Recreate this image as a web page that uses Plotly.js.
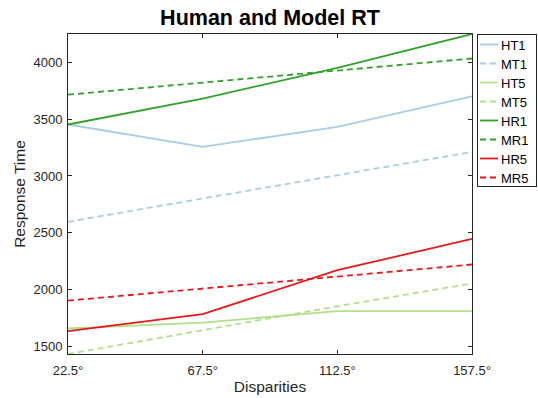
<!DOCTYPE html>
<html>
<head>
<meta charset="utf-8">
<script src="https://cdn.plot.ly/plotly-3.0.1.min.js"></script>
<style>html,body{margin:0;padding:0;background:#fff;}#chart{width:538px;height:398px;}</style>
</head>
<body>
<div id="chart"></div>
<script>
// Disparities (degrees)
const disparities = [22.5, 67.5, 112.5, 157.5];
const xTickLabels = ["22.5°", "67.5°", "112.5°", "157.5°"];

// Response times
const HT1 = [3452, 3255, 3432, 3700];
const MT1 = [2597, 2802, 3008, 3211];
const HT5 = [1660, 1712, 1812, 1812];
const MT5 = [1436, 1646, 1855, 2056];
const HR1 = [3452, 3680, 3950, 4247];
const MR1 = [3714, 3822, 3928, 4032];
const HR5 = [1636, 1786, 2172, 2447];
const MR5 = [1905, 2010, 2118, 2222];

const seriesNames = ["HT1", "MT1", "HT5", "MT5", "HR1", "MR1", "HR5", "MR5"];
const seriesData = [HT1, MT1, HT5, MT5, HR1, MR1, HR5, MR5];
const seriesColors = ["#a6cee3", "#a6cee3", "#b2df8a", "#b2df8a", "#33a02c", "#33a02c", "#e31a1c", "#e31a1c"];
const seriesDash = ["solid", "6px,4px", "solid", "6px,4px", "solid", "6px,4px", "solid", "6px,4px"];

const traces = seriesNames.map((name, i) => ({
  x: disparities,
  y: seriesData[i],
  name: name,
  type: "scatter",
  mode: "lines",
  line: {color: seriesColors[i], width: 1.8, dash: seriesDash[i]}
}));

const allY = [].concat(...seriesData);
const yMin = Math.min(...allY);
const yMax = Math.max(...allY);

const FONT = "Liberation Sans, Arial, Helvetica, sans-serif";

const axisCommon = {
  showgrid: false,
  zeroline: false,
  showline: true,
  mirror: "ticks",
  linecolor: "#262626",
  linewidth: 1,
  ticks: "inside",
  ticklen: 4,
  tickcolor: "#262626",
  tickfont: {family: FONT, size: 13, color: "#262626"}
};

const layout = {
  width: 538,
  height: 398,
  margin: {l: 68, r: 66, t: 34, b: 44, autoexpand: false},
  paper_bgcolor: "#fff",
  plot_bgcolor: "#fff",
  title: {
    text: "<b>Human and Model RT</b>",
    font: {family: FONT, size: 21.5, color: "#000"},
    x: 270 / 538, xanchor: "center",
    y: 1 - 17 / 398, yanchor: "middle",
    automargin: false
  },
  xaxis: Object.assign({}, axisCommon, {
    range: [disparities[0], disparities[disparities.length - 1]],
    tickvals: disparities,
    ticktext: xTickLabels,
    ticklabelstandoff: 4,
    automargin: false,
    title: {text: "Disparities", font: {family: FONT, size: 15.5, color: "#262626"}, standoff: 4}
  }),
  yaxis: Object.assign({}, axisCommon, {
    range: [yMin, yMax],
    tickmode: "linear",
    tick0: 1500,
    dtick: 500,
    ticklabelstandoff: 2,
    automargin: false,
    title: {text: "Response Time", font: {family: FONT, size: 15.5, color: "#262626"}, standoff: 4}
  }),
  showlegend: true,
  legend: {
    x: 0.5, xanchor: "center",
    y: 0.5, yanchor: "middle",
    bordercolor: "#262626",
    borderwidth: 1,
    bgcolor: "#fff",
    font: {family: FONT, size: 13, color: "#000"},
    tracegroupgap: 0,
    itemwidth: 30
  }
};

// Compact the legend to MATLAB-like short line samples and place it right of the axes
function compactLegend(gd) {
  const leg = gd.querySelector("g.legend");
  if (!leg) return;
  const left = 477, top = 33.5, w = 59, rowH = 19, firstY = 11;
  leg.setAttribute("transform", "translate(" + left + "," + top + ")");
  const items = leg.querySelectorAll("g.traces");
  items.forEach((g, i) => {
    g.setAttribute("transform", "translate(1," + (firstY + i * rowH) + ")");
    g.querySelectorAll("path.js-line").forEach(p => p.setAttribute("d", "M2,0h18"));
    const t = g.querySelector("text.legendtext");
    if (t) t.setAttribute("x", "23");
  });
  const h = firstY + (items.length - 1) * rowH + 8;
  leg.querySelectorAll("rect.bg").forEach(r => {
    r.setAttribute("x", "0.5");
    r.setAttribute("y", "0.5");
    r.setAttribute("width", w);
    r.setAttribute("height", h);
    r.style.stroke = "#262626";
    r.style.strokeWidth = "1px";
    r.style.fill = "#fff";
  });
  const sb = leg.querySelector("g.scrollbox");
  if (sb) { sb.setAttribute("transform", "translate(0,0)"); sb.removeAttribute("clip-path"); }
}

Plotly.newPlot("chart", traces, layout, {displayModeBar: false, staticPlot: true})
  .then(gd => { compactLegend(gd); setTimeout(() => compactLegend(gd), 50); });
</script>
</body>
</html>
